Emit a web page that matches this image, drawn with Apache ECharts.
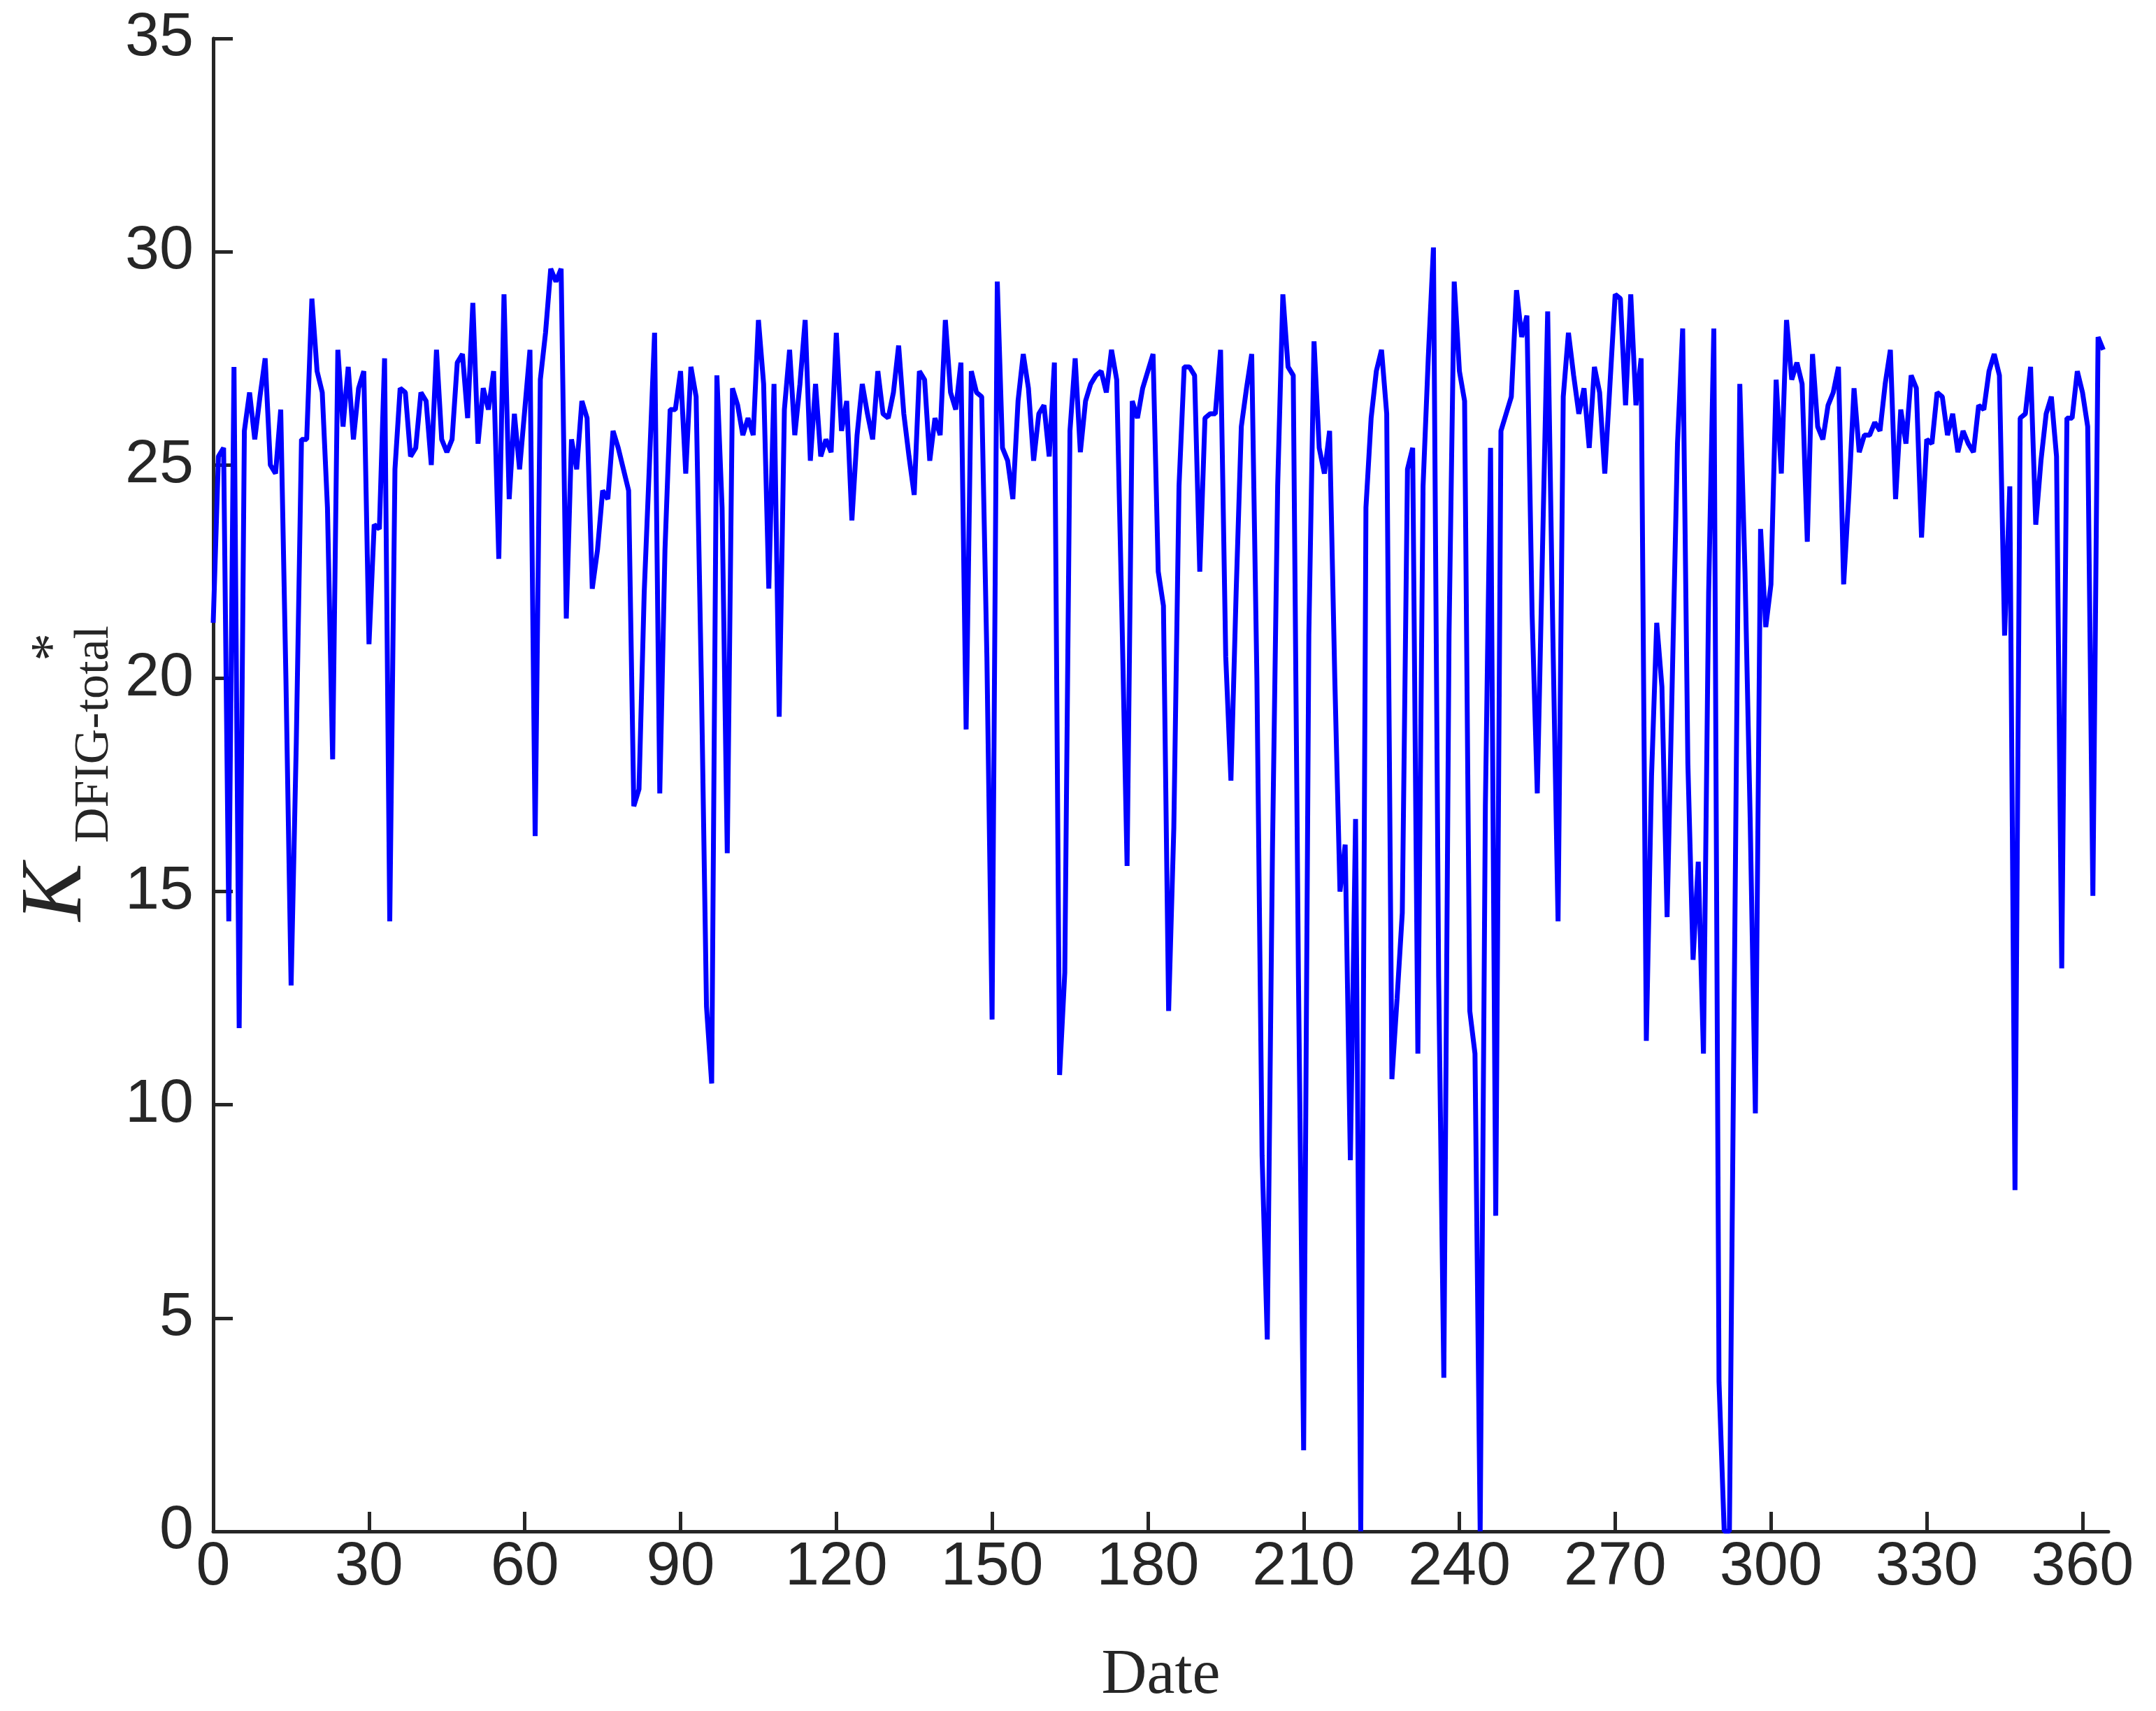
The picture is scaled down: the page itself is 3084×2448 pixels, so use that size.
<!DOCTYPE html>
<html>
<head>
<meta charset="utf-8">
<script src="https://cdn.jsdelivr.net/npm/echarts@6/dist/echarts.min.js"></script>
<style>
  html, body { margin: 0; padding: 0; background: #fff; }
  #chart { width: 3084px; height: 2448px; }
</style>
</head>
<body>
<div id="chart"></div>
<script>
// K*_DFIG-total per day (day 0 .. 364)
const kValues = [
  21.3, 25.2, 25.4, 14.3, 27.3, 11.8, 25.8, 26.7, 25.6, 26.6,
  27.5, 25.0, 24.8, 26.3, 20.0, 12.8, 18.5, 25.6, 25.6, 28.9,
  27.2, 26.7, 24.0, 18.1, 27.7, 25.9, 27.3, 25.6, 26.8, 27.2,
  20.8, 23.6, 23.5, 27.5, 14.3, 24.9, 26.8, 26.7, 25.2, 25.4,
  26.7, 26.5, 25.0, 27.7, 25.6, 25.3, 25.6, 27.4, 27.6, 26.1,
  28.8, 25.5, 26.8, 26.3, 27.2, 22.8, 29.0, 24.2, 26.2, 24.9,
  26.3, 27.7, 16.3, 27.0, 28.1, 29.6, 29.3, 29.6, 21.4, 25.6,
  24.9, 26.5, 26.1, 22.1, 23.0, 24.4, 24.2, 25.8, 25.4, 24.9,
  24.4, 17.0, 17.4, 22.0, 25.0, 28.1, 17.3, 23.0, 26.3, 26.3,
  27.2, 24.8, 27.3, 26.6, 20.0, 12.3, 10.5, 27.1, 24.0, 15.9,
  26.8, 26.4, 25.7, 26.1, 25.7, 28.4, 26.9, 22.1, 26.9, 19.1,
  26.3, 27.7, 25.7, 26.9, 28.4, 25.1, 26.9, 25.2, 25.6, 25.3,
  28.1, 25.8, 26.5, 23.7, 25.7, 26.9, 26.2, 25.6, 27.2, 26.2,
  26.1, 26.7, 27.8, 26.2, 25.2, 24.3, 27.2, 27.0, 25.1, 26.1,
  25.7, 28.4, 26.7, 26.3, 27.4, 18.8, 27.2, 26.7, 26.6, 20.5,
  12.0, 29.3, 25.4, 25.1, 24.2, 26.5, 27.6, 26.8, 25.1, 26.2,
  26.4, 25.2, 27.4, 10.7, 13.1, 25.8, 27.5, 25.3, 26.5, 26.9,
  27.1, 27.2, 26.7, 27.7, 27.0, 21.5, 15.6, 26.5, 26.1, 26.8,
  27.2, 27.6, 22.5, 21.7, 12.2, 16.5, 24.5, 27.3, 27.3, 27.1,
  22.5, 26.1, 26.2, 26.2, 27.7, 20.5, 17.6, 22.0, 25.9, 26.8,
  27.6, 20.0, 8.8, 4.5, 16.0, 24.5, 29.0, 27.3, 27.1, 13.0,
  1.9, 21.0, 27.9, 25.4, 24.8, 25.8, 20.0, 15.0, 16.1, 8.7,
  16.7, 0.0, 24.0, 26.1, 27.2, 27.7, 26.2, 10.6, 12.5, 14.5,
  24.9, 25.4, 11.2, 24.5, 27.5, 30.1, 13.0, 3.6, 21.0, 29.3,
  27.2, 26.5, 12.2, 11.2, 0.0, 17.0, 25.4, 7.4, 25.8, 26.2,
  26.6, 29.1, 28.0, 28.5, 21.5, 17.3, 23.0, 28.6, 21.0, 14.3,
  26.6, 28.1, 27.1, 26.2, 26.8, 25.4, 27.3, 26.7, 24.8, 26.9,
  29.0, 28.9, 26.4, 29.0, 26.4, 27.5, 11.5, 17.7, 21.3, 19.8,
  14.4, 20.0, 25.5, 28.2, 18.0, 13.4, 15.7, 11.2, 22.0, 28.2,
  3.5, 0.0, 0.0, 13.5, 26.9, 22.5, 16.7, 9.8, 23.5, 21.2,
  22.2, 27.0, 24.8, 28.4, 27.0, 27.4, 26.9, 23.2, 27.6, 25.9,
  25.6, 26.4, 26.7, 27.3, 22.2, 24.3, 26.8, 25.3, 25.7, 25.7,
  26.0, 25.8, 26.9, 27.7, 24.2, 26.3, 25.5, 27.1, 26.8, 23.3,
  25.6, 25.5, 26.7, 26.6, 25.7, 26.2, 25.3, 25.8, 25.5, 25.3,
  26.4, 26.3, 27.2, 27.6, 27.1, 21.0, 24.5, 8.0, 26.1, 26.2,
  27.3, 23.6, 25.1, 26.2, 26.6, 25.2, 13.2, 26.1, 26.1, 27.2,
  26.7, 25.9, 14.9, 28.0, 27.7
];
const days = kValues.map((_, i) => i);
const xTicks = [0, 30, 60, 90, 120, 150, 180, 210, 240, 270, 300, 330, 360];
const yTicks = [0, 5, 10, 15, 20, 25, 30, 35];

const axisColor = '#262626';
const chart = echarts.init(document.getElementById('chart'));

const option = {
  backgroundColor: '#ffffff',
  animation: false,
  grid: {
    left: 305,
    right: 68,
    top: 55,
    bottom: 256
  },
  xAxis: {
    type: 'value',
    min: 0,
    max: 365,
    name: 'Date',
    nameLocation: 'middle',
    nameGap: 162,
    nameTextStyle: {
      fontFamily: 'Liberation Serif',
      fontSize: 90,
      color: axisColor
    },
    axisLine: { lineStyle: { color: axisColor, width: 5 } },
    axisTick: {
      inside: true,
      length: 28,
      customValues: xTicks,
      lineStyle: { color: axisColor, width: 5 }
    },
    axisLabel: {
      customValues: xTicks,
      margin: 8,
      fontFamily: 'Liberation Sans',
      fontSize: 88,
      color: axisColor
    },
    splitLine: { show: false }
  },
  yAxis: {
    type: 'value',
    min: 0,
    max: 35,
    interval: 5,
    axisLine: { show: true, lineStyle: { color: axisColor, width: 5 } },
    axisTick: {
      show: true,
      inside: true,
      length: 28,
      customValues: yTicks,
      lineStyle: { color: axisColor, width: 5 }
    },
    axisLabel: {
      customValues: yTicks,
      margin: 28,
      fontFamily: 'Liberation Sans',
      fontSize: 88,
      color: axisColor
    },
    splitLine: { show: false }
  },
  graphic: [
    {
      // y-axis label K*_DFIG-total, drawn rotated to read bottom to top
      type: 'group',
      x: 144,
      y: 1318,
      rotation: Math.PI / 2,
      children: [
        {
          type: 'text',
          x: 0,
          y: 0,
          style: {
            text: 'K',
            font: 'italic 124px "Liberation Serif"',
            fill: axisColor,
            textAlign: 'left',
            textVerticalAlign: 'bottom'
          }
        },
        {
          type: 'text',
          x: 112,
          y: 27,
          style: {
            text: 'DFIG-total',
            font: '70px "Liberation Serif"',
            fill: axisColor,
            textAlign: 'left',
            textVerticalAlign: 'bottom'
          }
        },
        {
          type: 'text',
          x: 372,
          y: -26,
          style: {
            text: '*',
            font: '80px "Liberation Serif"',
            fill: axisColor,
            textAlign: 'left',
            textVerticalAlign: 'bottom'
          }
        }
      ]
    }
  ],
  series: [
    {
      type: 'line',
      data: days.map((d, i) => [d, kValues[i]]),
      showSymbol: false,
      clip: true,
      lineStyle: { color: '#0000ff', width: 7 }
    }
  ]
};

chart.setOption(option);
</script>
</body>
</html>
